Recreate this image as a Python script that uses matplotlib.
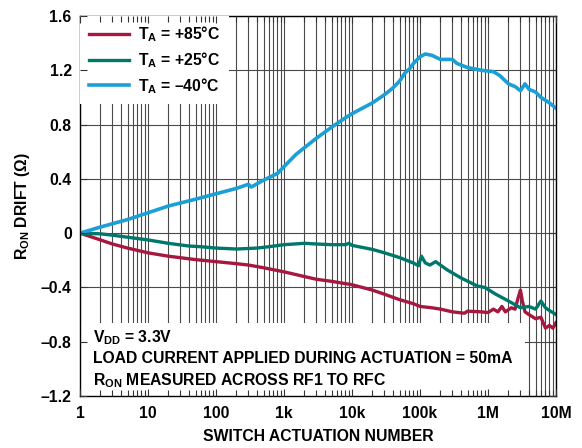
import numpy as np
import matplotlib
matplotlib.use("Agg")
import matplotlib.pyplot as plt
from matplotlib.patches import Rectangle
from matplotlib.ticker import FixedLocator, FixedFormatter, LogLocator, NullFormatter

plt.rcParams['font.family'] = ['Liberation Sans', 'DejaVu Sans']
plt.rcParams['font.weight'] = 'bold'
plt.rcParams['axes.labelweight'] = 'bold'
plt.rcParams['mathtext.fontset'] = 'custom'
plt.rcParams['mathtext.rm'] = 'Liberation Sans:bold'
plt.rcParams['mathtext.bf'] = 'Liberation Sans:bold'
plt.rcParams['mathtext.it'] = 'Liberation Sans:bold'

# drift readings per temperature (actuation count, ohms)
n_85 = [1, 2, 3, 5, 10, 20, 50, 100, 200, 300, 500, 1e3, 2e3, 3e3, 5e3, 1e4, 2e4, 3e4,
        5e4, 8e4, 1e5, 1.5e5, 2e5, 3e5, 4.5e5, 5e5, 8e5, 1e6, 1.2e6, 1.4e6, 1.6e6, 1.8e6,
        2.2e6, 2.5e6, 2.8e6, 3e6, 3.2e6, 3.5e6, 4e6, 5e6, 6e6, 7e6, 8e6, 9e6, 1e7]
r_85 = [0, -0.05, -0.08, -0.11, -0.145, -0.17, -0.195, -0.21, -0.225, -0.235, -0.255,
        -0.285, -0.32, -0.34, -0.355, -0.38, -0.42, -0.45, -0.49, -0.52, -0.54, -0.55,
        -0.56, -0.58, -0.59, -0.575, -0.58, -0.585, -0.56, -0.58, -0.54, -0.58, -0.55,
        -0.56, -0.47, -0.42, -0.50, -0.58, -0.60, -0.63, -0.62, -0.70, -0.68, -0.70, -0.66]

n_25 = [1, 2, 3, 5, 10, 20, 40, 60, 100, 200, 400, 600, 1e3, 2e3, 3e3, 5e3, 8e3, 9e3,
        1e4, 2e4, 3e4, 5e4, 8e4, 9.5e4, 1.05e5, 1.2e5, 1.4e5, 1.7e5, 2.5e5, 4e5, 7e5,
        9e5, 1.3e6, 2e6, 3e6, 4e6, 5e6, 6e6, 7e6, 8e6, 1e7]
r_25 = [0, -0.005, -0.015, -0.03, -0.05, -0.075, -0.095, -0.10, -0.11, -0.117, -0.11,
        -0.10, -0.085, -0.075, -0.08, -0.085, -0.085, -0.075, -0.09, -0.12, -0.145,
        -0.18, -0.22, -0.24, -0.17, -0.22, -0.235, -0.21, -0.27, -0.33, -0.39, -0.40,
        -0.45, -0.50, -0.55, -0.54, -0.56, -0.50, -0.55, -0.57, -0.60]

n_m40 = [1, 2, 5, 10, 20, 50, 100, 200, 300, 330, 500, 800, 1e3, 1.5e3, 2e3, 3e3, 5e3,
         8e3, 1e4, 2e4, 3e4, 4e4, 5e4, 6e4, 7e4, 8e4, 1e5, 1.2e5, 1.5e5, 2e5, 2.5e5, 3e5,
         3.5e5, 5e5, 8e5, 1.2e6, 1.5e6, 2e6, 2.5e6, 3e6, 3.5e6, 4e6, 5e6, 6e6, 8e6, 1e7]
r_m40 = [0, 0.045, 0.10, 0.15, 0.20, 0.25, 0.29, 0.33, 0.36, 0.34, 0.39, 0.44, 0.49,
         0.58, 0.63, 0.70, 0.78, 0.85, 0.88, 0.96, 1.02, 1.07, 1.12, 1.18, 1.21, 1.25,
         1.30, 1.32, 1.31, 1.28, 1.28, 1.28, 1.25, 1.22, 1.20, 1.19, 1.16, 1.10, 1.08,
         1.05, 1.10, 1.06, 1.04, 1.00, 0.96, 0.92]

x_ticks = [1, 10, 100, 1e3, 1e4, 1e5, 1e6, 1e7]
x_labels = ['1', '10', '100', '1k', '10k', '100k', '1M', '10M']
y_ticks = [-1.2, -0.8, -0.4, 0, 0.4, 0.8, 1.2, 1.6]
y_labels = ['–1.2', '–0.8', '–0.4', '0', '0.4', '0.8', '1.2', '1.6']

fs = 11.3
pos = [80 / 582, 52 / 448, 476 / 582, 380 / 448]
fig = plt.figure(figsize=(5.82, 4.48), dpi=100)
ax = fig.add_axes(pos)
ax.set_xscale('log')
ax.set_xlim(1, 1e7)
ax.set_ylim(-1.2, 1.6)

ax.xaxis.set_major_locator(FixedLocator(x_ticks))
ax.xaxis.set_major_formatter(FixedFormatter(x_labels))
ax.xaxis.set_minor_locator(LogLocator(base=10, subs=np.arange(2, 10)))
ax.xaxis.set_minor_formatter(NullFormatter())
ax.yaxis.set_major_locator(FixedLocator(y_ticks))
ax.yaxis.set_major_formatter(FixedFormatter(y_labels))

ax.set_axisbelow(True)
ax.grid(which='both', axis='x', color='#4a4a4a', lw=0.8)
ax.grid(which='major', axis='y', color='#4a4a4a', lw=0.8)
ax.tick_params(which='both', length=0, labelsize=fs, pad=6)
ax.tick_params(axis='x', pad=7)
for s in ax.spines.values():
    s.set_linewidth(1.0)

# white panel behind the test conditions
ax.add_patch(Rectangle((0, 0), 0.935, 0.192, transform=ax.transAxes,
                       facecolor='white', edgecolor='none', zorder=1))

ax.plot(n_85, r_85, color='#A6183F', lw=2.4, label=r'$\mathrm{T_A}$ = +85°C', zorder=2)
ax.plot(n_25, r_25, color='#00776B', lw=2.4, label=r'$\mathrm{T_A}$ = +25°C', zorder=2)
ax.plot(n_m40, r_m40, color='#1A9FD6', lw=2.6, label=r'$\mathrm{T_A}$ = –40°C', zorder=2)

leg = ax.legend(loc='upper left', frameon=True, fancybox=False, framealpha=1,
                facecolor='white', edgecolor='none', fontsize=fs, handlelength=2.55,
                handletextpad=0.6, borderaxespad=0, borderpad=0.55, labelspacing=0.38)
leg.get_frame().set_linewidth(0)

ax.text(0.027, 0.153, r'$\mathrm{V_{DD}}$ = 3.3V', transform=ax.transAxes,
        fontsize=fs, va='center', zorder=3)
ax.text(0.027, 0.098, 'LOAD CURRENT APPLIED DURING ACTUATION = 50mA',
        transform=ax.transAxes, fontsize=fs, va='center', zorder=3)
ax.text(0.027, 0.040, r'$\mathrm{R_{ON}}$ MEASURED ACROSS RF1 TO RFC',
        transform=ax.transAxes, fontsize=fs, va='center', zorder=3)

ax.set_xlabel('SWITCH ACTUATION NUMBER', fontsize=fs, labelpad=6)
ax.set_ylabel(r'$\mathrm{R_{ON}}$ DRIFT (Ω)', fontsize=fs, labelpad=6)

# inward tick marks drawn over the white panels
top = fig.add_axes(pos, sharex=ax, sharey=ax)
top.patch.set_visible(False)
for s in top.spines.values():
    s.set_visible(False)
top.tick_params(which='both', direction='in', top=True, right=True,
                labelbottom=False, labelleft=False, color='#333333', width=0.8)
top.tick_params(which='major', length=5)
top.tick_params(which='minor', length=4)

fig.savefig('out.png', dpi=100)
